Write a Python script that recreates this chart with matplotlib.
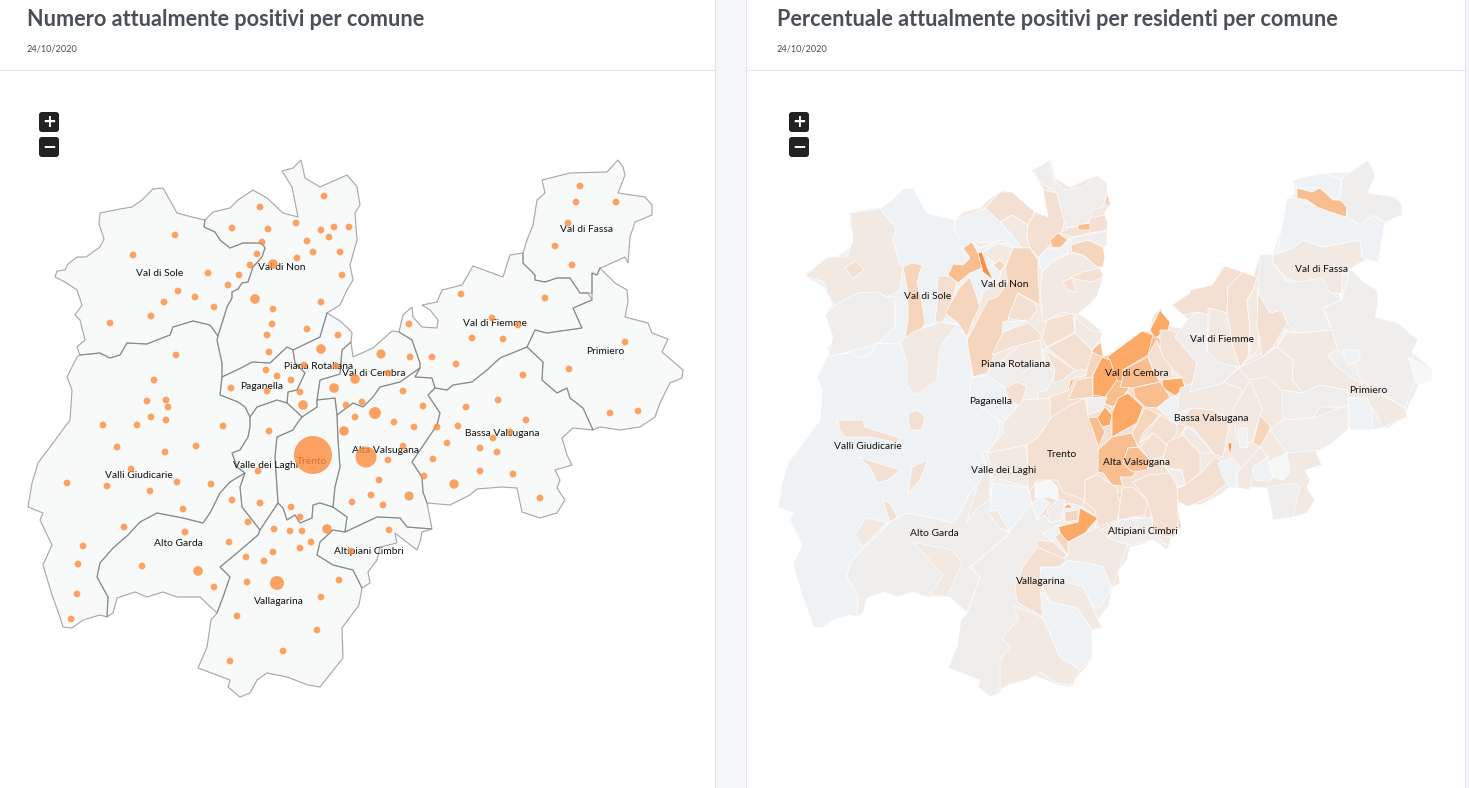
import matplotlib
matplotlib.use("Agg")
import matplotlib.pyplot as plt
from matplotlib.patches import Polygon, Rectangle, FancyBboxPatch

W, H = 1469, 788

title_left = "Numero attualmente positivi per comune"
title_right = "Percentuale attualmente positivi per residenti per comune"
date_text = "24/10/2020"

# district outlines, traced in pixels from the left map
districts = {
    "Val di Sole": [(55,277),(57,271),(65,270),(68,264),(77,257),(86,257),(100,247),(104,239),(99,224),(100,213),(120,209),(132,207),(142,200),(153,189),(163,188),(168,197),(177,213),(192,217),(205,220),(204,227),(215,232),(220,240),(230,248),(243,243),(262,243),(265,248),(262,257),(253,267),(248,282),(242,283),(238,289),(232,292),(232,298),(227,307),(223,320),(218,336),(210,325),(193,321),(173,327),(170,335),(157,340),(147,344),(127,343),(120,355),(110,358),(100,353),(80,355),(77,347),(85,340),(80,320),(75,315),(82,305),(77,290),(65,282)],
    "Val di Non": [(205,220),(213,212),(230,208),(238,200),(253,190),(267,198),(283,213),(298,217),(292,187),(282,171),(293,168),(301,160),(305,178),(320,187),(347,175),(353,182),(357,187),(360,205),(355,213),(357,240),(350,265),(353,280),(347,290),(340,305),(327,313),(320,337),(293,350),(287,347),(270,363),(252,362),(243,367),(222,377),(222,363),(217,340),(218,336),(223,320),(227,307),(232,298),(232,292),(238,289),(242,283),(248,282),(253,267),(262,257),(265,248),(262,243),(243,243),(230,248),(220,240),(215,232),(204,227)],
    "Piana Rotaliana": [(293,350),(295,363),(305,373),(297,390),(288,392),(287,403),(298,413),(302,417),(317,407),(317,400),(320,380),(340,374),(342,350),(351,342),(352,333),(350,330),(340,321),(327,313),(320,337)],
    "Paganella": [(222,377),(243,367),(252,362),(270,363),(287,347),(293,350),(295,363),(305,373),(297,390),(288,392),(287,403),(277,400),(257,407),(250,417),(245,407),(238,402),(220,395)],
    "Valli Giudicarie": [(80,355),(100,353),(110,358),(120,355),(127,343),(147,344),(157,340),(170,335),(173,327),(193,321),(210,325),(218,336),(217,340),(222,363),(222,377),(220,395),(238,402),(245,407),(250,417),(250,427),(248,437),(240,450),(232,453),(237,467),(245,473),(230,482),(220,493),(210,513),(203,523),(183,518),(157,513),(140,522),(128,535),(113,548),(100,563),(97,577),(108,597),(107,617),(100,615),(83,620),(72,628),(63,627),(60,617),(52,595),(43,565),(52,545),(40,520),(43,513),(28,507),(32,483),(38,463),(53,443),(70,420),(72,390),(67,377),(77,357)],
    "Alto Garda": [(157,513),(183,518),(203,523),(210,513),(220,493),(230,482),(245,473),(240,487),(242,507),(260,530),(258,535),(237,553),(220,567),(230,577),(223,597),(217,613),(200,597),(177,597),(163,592),(147,597),(135,592),(117,598),(113,613),(107,617),(108,597),(97,577),(100,563),(113,548),(128,535),(140,522)],
    "Valle dei Laghi": [(250,427),(250,417),(257,407),(277,400),(287,403),(298,413),(302,417),(298,422),(293,430),(277,437),(275,457),(278,503),(260,530),(242,507),(240,487),(245,473),(237,467),(232,453),(240,450),(248,437)],
    "Trento": [(277,437),(293,430),(298,422),(302,417),(317,407),(317,400),(335,398),(337,415),(338,440),(340,467),(335,487),(333,507),(320,503),(313,505),(312,518),(300,523),(295,515),(287,520),(283,508),(278,503),(275,457)],
    "Vallagarina": [(260,530),(278,503),(283,508),(287,520),(295,515),(300,523),(312,518),(313,505),(320,503),(333,507),(347,517),(345,532),(333,530),(320,542),(317,555),(333,565),(353,570),(362,588),(359,605),(342,628),(343,658),(320,687),(308,685),(287,677),(267,673),(257,680),(250,693),(240,697),(228,687),(230,680),(198,668),(207,647),(211,620),(217,613),(223,597),(230,577),(220,567),(237,553),(258,535)],
    "Altipiani Cimbri": [(345,532),(377,517),(400,518),(407,527),(432,529),(422,532),(420,542),(417,550),(395,533),(397,543),(380,547),(377,560),(368,572),(370,583),(362,588),(353,570),(333,565),(317,555),(320,542),(333,530)],
    "Val di Cembra": [(320,380),(340,374),(342,350),(351,342),(353,357),(373,348),(392,331),(399,332),(412,340),(420,363),(420,368),(400,382),(380,387),(373,397),(363,407),(353,403),(337,415),(335,398),(317,400)],
    "Alta Valsugana": [(337,415),(353,403),(363,407),(373,397),(380,387),(400,382),(420,368),(415,377),(432,378),(435,388),(428,395),(440,413),(437,425),(412,462),(422,477),(423,492),(427,503),(432,529),(407,527),(400,518),(377,517),(345,532),(347,517),(333,507),(335,487),(340,467),(338,440)],
    "Val di Fiemme": [(399,332),(403,315),(412,307),(413,317),(422,327),(437,328),(438,320),(430,310),(422,305),(437,302),(442,290),(462,285),(473,266),(503,277),(510,255),(523,253),(523,263),(535,275),(535,280),(545,282),(557,278),(570,278),(580,293),(588,293),(592,300),(573,308),(582,328),(547,333),(535,330),(527,347),(500,358),(487,370),(472,382),(453,385),(447,390),(435,388),(432,378),(415,377),(420,368),(420,363),(412,340)],
    "Val di Fassa": [(523,253),(527,240),(533,225),(537,200),(545,193),(542,180),(570,173),(607,172),(618,160),(623,167),(625,175),(618,193),(645,197),(652,205),(652,215),(635,222),(630,237),(628,263),(625,257),(603,267),(600,268),(597,275),(592,273),(592,293),(588,293),(580,293),(570,278),(557,278),(545,282),(535,280),(535,275),(523,263)],
    "Primiero": [(600,268),(615,283),(627,290),(628,302),(625,317),(648,323),(652,333),(668,339),(662,352),(683,370),(682,378),(670,383),(660,403),(655,417),(640,427),(620,430),(600,427),(593,430),(583,408),(570,398),(567,388),(557,393),(542,380),(543,362),(527,347),(535,330),(547,333),(582,328),(573,308),(592,300),(592,293),(592,273),(597,275)],
    "Bassa Valsugana": [(435,388),(447,390),(453,385),(472,382),(487,370),(500,358),(527,347),(543,362),(542,380),(557,393),(567,388),(570,398),(583,408),(593,430),(573,428),(562,438),(567,455),(572,465),(555,470),(560,480),(557,488),(565,500),(557,513),(540,518),(522,512),(517,488),(502,487),(477,489),(470,495),(450,505),(427,503),(423,492),(422,477),(412,462),(437,425),(440,413),(428,395)],
}

# level most comuni of a district sit at on the right map
district_levels = {"Val di Sole": 0, "Val di Non": 2, "Piana Rotaliana": 2, "Paganella": 1, "Valli Giudicarie": 0,
                   "Alto Garda": 1, "Valle dei Laghi": 1, "Trento": 3, "Vallagarina": 1, "Altipiani Cimbri": 2,
                   "Val di Cembra": 5, "Alta Valsugana": 3, "Val di Fiemme": 2, "Val di Fassa": 0, "Primiero": 1,
                   "Bassa Valsugana": 2}

# label name, x on left map, y on left map, x on right map, y on right map
label_names = ["Val di Sole","Val di Non","Piana Rotaliana","Paganella","Val di Cembra","Val di Fiemme","Val di Fassa","Primiero","Bassa Valsugana","Valli Giudicarie","Trento","Alta Valsugana","Valle dei Laghi","Alto Garda","Altipiani Cimbri","Vallagarina"]
left_label_xy = [(160,273),(282,268),(319,366),(262,386),(374,373),(495,323),(587,229),(605,351),(502,433),(139,475),(312,461),(386,450),(266,465),(178,544),(369,552),(279,601)]
right_label_xy = [(928,296),(1005,284),(1016,364),(991,401),(1137,373),(1222,339),(1322,270),(1368,390),(1211,418),(868,446),(1062,454),(1137,462),(1004,470),(934,534),(1143,531),(1041,582)]

# comuni with only a few cases
small_dots = [(175,235),(133,255),(208,273),(239,275),(250,265),(257,254),(262,242),(228,285),(178,291),(195,297),(164,302),(214,307),(151,316),(110,323),(260,207),(232,228),(268,229),(296,223),(324,196),(321,230),(334,227),(349,227),(329,237),(307,241),(313,252),(340,252),(297,258),(342,275),(321,302),(273,309),(272,324),(307,329),(267,335),(269,352),(338,335),(304,365),(266,370),(336,366),(277,376),(291,380),(231,388),(267,391),(300,392),(346,405),(355,417),(176,355),(154,380),(147,401),(166,400),(168,407),(151,417),(166,420),(103,425),(137,425),(223,426),(269,431),
              (580,186),(576,202),(616,202),(568,223),(555,246),(572,265),(545,298),(461,294),(492,318),(518,325),(409,324),(472,338),(503,339),(625,342),(410,357),(432,357),(456,364),(569,369),(388,373),(523,375),(403,391),(498,400),(466,407),(423,406),(362,402),(394,422),(526,420),(610,413),(638,411),(414,427),(437,427),(458,426),
              (510,432),(493,438),(447,443),(480,448),(497,452),(480,471),(513,474),(540,498),
              (117,447),(165,452),(196,446),(131,469),(67,483),(107,486),(177,482),(211,484),(150,491),(183,509),(232,500),(260,503),(248,522),(124,527),(185,532),(83,546),(78,564),(142,566),(229,542),(214,587),(77,594),(71,619),(403,446),(388,460),(433,459),(424,476),(379,480),(258,471),(371,495),(352,502),(383,505),(291,507),(300,517),(274,529),(290,531),(302,531),(389,530),(311,542),(300,548),(273,552),(351,551),(246,557),(264,561),(247,582),(339,580),(321,597),(237,616),(317,630),(283,651),(230,661)]
big_dots = [(273,264,4.8),(255,299,4.8),(321,349,4.8),(334,388,4.8),(355,379,4.8),(303,405,4.8),(381,354,4.6),(344,431,4.8),(198,571,4.8),(409,496,4.6),(327,529,4.8),(454,484,4.7),(277,583,7),(375,413,6),(366,457,10.5),(313,455,19)]

# right map: share of residents, 0 (lowest) to 7 (highest), one entry per comune outline
comuni = [
    (2,[(805,276),(817,265),(828,257),(847,257),(853,240),(850,213),(870,210),(880,209),(896,228),(893,240),(900,265),(903,265),(900,290),(887,297),(877,292),(858,293),(835,305),(827,293),(825,282)]),
    (3,[(845,268),(856,261),(864,270),(853,279)]),
    (1,[(825,315),(835,305),(858,293),(877,292),(887,297),(895,297),(895,327),(880,342),(867,347),(828,357),(833,337)]),
    (4,[(903,267),(912,263),(922,265),(917,283),(921,297),(925,323),(918,335),(905,337),(908,320),(908,293)]),
    (3,[(938,276),(950,276),(957,283),(950,307),(943,322),(935,322),(937,303)]),
    (4,[(945,313),(960,287),(970,277),(980,307),(973,320),(967,337),(958,323)]),
    (0,[(955,220),(985,208),(1000,222),(1010,233),(1022,248),(1013,248),(1005,240),(985,243),(972,242),(963,248),(955,230)]),
    (2,[(982,253),(998,243),(1013,248),(1005,268),(993,262)]),
    (5,[(948,275),(953,264),(963,265),(970,258),(963,248),(972,242),(978,253),(982,268),(970,273),(958,283)]),
    (2,[(900,342),(913,332),(940,322),(957,325),(940,347),(937,380),(917,395),(907,387),(907,363)]),
    (3,[(985,208),(1000,192),(1012,192),(1035,212),(1028,225),(1012,215),(1000,222)]),
    (2,[(1000,222),(1012,215),(1028,225),(1027,237),(1030,248),(1022,248),(1010,233)]),
    (3,[(1028,225),(1035,212),(1048,217),(1043,190),(1057,193),(1065,217),(1062,233),(1048,247),(1038,258),(1030,248),(1027,237)]),
    (1,[(1032,170),(1050,160),(1053,178),(1063,190),(1083,187),(1097,175),(1107,183),(1107,193),(1103,207),(1092,210),(1090,222),(1067,228),(1063,217),(1057,193),(1042,183)]),
    (4,[(1104,205),(1107,193),(1111,205)]),
    (3,[(1060,233),(1068,228),(1088,225),(1090,218),(1105,215),(1108,223),(1107,230),(1090,233),(1073,237)]),
    (5,[(1078,225),(1090,223),(1090,230),(1078,230)]),
    (1,[(1072,238),(1090,234),(1107,231),(1107,245),(1103,247),(1088,240),(1071,245)]),
    (5,[(1050,240),(1058,233),(1068,240),(1060,248),(1052,247)]),
    (4,[(1071,245),(1088,240),(1103,247),(1105,257),(1103,267),(1097,267),(1083,255),(1072,252)]),
    (0,[(1038,260),(1048,248),(1060,248),(1070,238),(1068,253),(1052,262),(1042,272)]),
    (2,[(1052,262),(1070,253),(1083,255),(1097,267),(1103,277),(1097,297),(1083,310),(1077,315),(1063,312),(1043,322),(1040,293),(1042,272)]),
    (3,[(1070,278),(1083,272),(1100,268),(1103,277),(1092,282)]),
    (3,[(1062,282),(1072,278),(1077,292),(1068,290)]),
    (4,[(1005,268),(1013,248),(1030,248),(1038,260),(1038,273),(1040,305),(1018,293),(1008,320),(1000,340),(992,360),(987,373),(973,377),(967,340),(988,300),(997,297),(1008,283)]),
    (3,[(1008,318),(1018,293),(1035,303),(1037,310),(1028,322)]),
    (0,[(1003,322),(1027,320),(1002,333)]),
    (4,[(993,265),(1000,260),(1005,265),(1000,272)]),
    (3,[(992,355),(1003,332),(1028,323),(1040,333),(1040,340),(1013,347)]),
    (2,[(1002,360),(1020,345),(1040,340),(1043,360),(1023,372)]),
    (3,[(1042,338),(1047,320),(1073,313),(1075,332),(1047,347)]),
    (3,[(1047,348),(1075,333),(1092,350),(1090,370),(1075,370)]),
    (2,[(1075,317),(1090,330),(1102,333),(1100,340),(1092,350),(1075,333)]),
    (3,[(1045,350),(1075,370),(1063,380),(1053,383),(1055,370)]),
    (4,[(1092,352),(1102,357),(1093,375),(1090,385),(1085,377)]),
    (0,[(970,378),(987,375),(1005,388),(1008,398),(1020,407),(1003,423),(987,412),(970,398)]),
    (3,[(1005,388),(1018,382),(1027,387),(1020,407),(1008,398)]),
    (3,[(1047,398),(1070,390),(1075,377),(1085,377),(1092,397),(1087,400),(1087,420),(1050,420)]),
    (4,[(1068,400),(1077,380),(1092,377),(1093,397)]),
    # val di cembra
    (6,[(1150,330),(1160,310),(1170,322),(1168,330),(1155,338)]),
    (6,[(1107,357),(1142,331),(1153,335),(1148,355),(1123,370),(1122,382),(1115,380),(1110,360)]),
    (6,[(1102,357),(1110,360),(1117,380),(1105,397),(1093,395),(1093,375)]),
    (5,[(1123,370),(1148,357),(1153,370),(1160,382),(1145,385),(1133,388),(1120,387),(1122,382)]),
    (3,[(1160,330),(1173,330),(1197,357),(1197,382),(1185,387),(1182,378),(1170,368),(1160,358)]),
    (3,[(1148,355),(1157,340),(1163,357),(1172,368),(1172,378),(1160,380),(1153,370)]),
    (6,[(1162,380),(1182,378),(1185,387),(1175,396),(1163,388)]),
    (5,[(1133,388),(1160,382),(1170,397),(1157,408),(1145,407),(1135,397)]),
    (6,[(1128,393),(1143,407),(1137,423),(1112,437),(1112,413),(1118,398)]),
    (6,[(1105,407),(1112,415),(1110,425),(1102,427),(1097,418)]),
    (1,[(1087,398),(1107,397),(1102,410),(1088,415)]),
    (5,[(1083,418),(1097,417),(1102,427),(1105,432),(1098,448),(1083,432)]),
    (5,[(1098,450),(1112,437),(1132,433),(1138,447),(1128,448),(1123,463),(1140,467),(1132,477),(1120,477),(1123,486),(1112,485),(1103,473),(1097,472)]),
    (5,[(1128,448),(1138,447),(1150,460),(1147,470),(1132,472),(1123,463)]),
    (4,[(1132,433),(1145,408),(1160,415),(1143,433),(1138,447)]),
    (3,[(1140,443),(1160,415),(1177,425),(1177,433),(1167,447),(1153,433)]),
    (0,[(1157,408),(1175,395),(1190,412),(1177,425)]),
    (3,[(1140,447),(1153,433),(1167,445),(1163,457),(1150,460)]),
    (3,[(1163,457),(1168,442),(1183,435),(1200,453),(1200,473),(1185,485),(1182,470),(1167,468)]),
    (1,[(1168,470),(1182,470),(1185,485),(1172,488)]),
    (3,[(1173,490),(1185,485),(1202,472),(1215,457),(1220,460),(1228,482),(1210,497),(1187,507),(1175,498)]),
    (2,[(1180,388),(1193,383),(1217,380),(1240,388),(1243,398),(1230,420),(1213,410),(1192,408),(1177,413)]),
    (3,[(1192,408),(1213,410),(1230,420),(1223,457),(1215,455),(1193,428),(1178,423)]),
    (2,[(1185,428),(1193,430),(1213,453),(1200,453),(1183,435)]),
    (2,[(1233,410),(1250,380),(1263,410),(1260,415),(1252,443),(1237,440)]),
    (4,[(1253,443),(1260,415),(1271,427),(1260,447)]),
    (7,[(1228,443),(1232,443),(1230,457)]),
    (0,[(1218,463),(1233,458),(1243,470),(1237,473),(1237,488),(1230,488),(1223,477)]),
    (0,[(1238,428),(1247,428),(1248,447),(1240,448)]),
    (2,[(1237,473),(1260,447),(1268,457),(1253,470),(1250,490),(1238,488)]),
    (0,[(1253,467),(1268,457),(1273,477),(1270,482),(1255,480)]),
    (8,[(1268,462),(1287,453),(1290,473),(1283,480),(1273,477)]),
    (1,[(1267,487),(1293,483),(1300,487),(1293,517),(1273,520)]),
    # fiemme and fassa
    (3,[(1172,305),(1190,293),(1190,290),(1212,285),(1225,266),(1243,272),(1228,287),(1227,313),(1208,308),(1208,315),(1197,312),(1183,315)]),
    (1,[(1175,337),(1187,320),(1197,312),(1208,315),(1207,350),(1238,368),(1223,383),(1190,392),(1197,363)]),
    (2,[(1210,308),(1227,313),(1233,347),(1240,367),(1218,363),(1207,350)]),
    (3,[(1228,287),(1243,272),(1257,277),(1253,290),(1247,300),(1250,330),(1248,357),(1240,367),(1233,347),(1227,313)]),
    (2,[(1253,290),(1257,287),(1260,317),(1258,350),(1250,358),(1250,330),(1247,300)]),
    (3,[(1258,292),(1270,313),(1282,310),(1287,323),(1273,347),(1262,357),(1260,340),(1257,327)]),
    (1,[(1260,255),(1273,254),(1273,263),(1285,278),(1285,282),(1323,278),(1332,293),(1342,300),(1323,308),(1332,330),(1297,333),(1287,323),(1282,310),(1270,313),(1258,292)]),
    (2,[(1273,255),(1293,248),(1303,240),(1323,247),(1343,243),(1360,240),(1362,257),(1370,257),(1353,267),(1342,273),(1342,293),(1330,293),(1322,278),(1297,282),(1285,277),(1273,263)]),
    (0,[(1277,253),(1287,198),(1298,198),(1317,207),(1347,217),(1360,225),(1373,215),(1385,222),(1378,263),(1362,257),(1360,240),(1343,243),(1323,247),(1303,240),(1293,248)]),
    (0,[(1292,180),(1323,173),(1342,180),(1337,200),(1320,188),(1297,188)]),
    (5,[(1297,188),(1312,192),(1320,188),(1333,200),(1342,200),(1347,207),(1346,217),(1330,212),(1317,207),(1307,200),(1297,198)]),
    (1,[(1342,178),(1368,160),(1375,175),(1368,193),(1395,197),(1402,205),(1402,215),(1385,222),(1373,215),(1360,225),(1347,217),(1347,207),(1340,200)]),
    # primiero
    (1,[(1323,308),(1342,300),(1350,268),(1365,283),(1377,290),(1378,302),(1375,317),(1398,323),(1418,340),(1412,352),(1415,380),(1405,408),(1360,380),(1357,367),(1338,350),(1332,330)]),
    (8,[(1408,357),(1433,370),(1432,380),(1418,385),(1415,380)]),
    (2,[(1277,347),(1287,332),(1297,333),(1332,330),(1338,350),(1328,355),(1337,367),(1360,383),(1405,408),(1407,417),(1383,427),(1372,407),(1350,403),(1347,390),(1320,385),(1303,393),(1292,380),(1293,360)]),
    (0,[(1342,350),(1360,350),(1360,360),(1348,365)]),
    (2,[(1238,368),(1262,357),(1277,347),(1293,360),(1292,380),(1303,393),(1282,390),(1267,377),(1250,380)]),
    (1,[(1282,390),(1303,393),(1320,385),(1347,390),(1353,410),(1340,407),(1320,407),(1313,418),(1283,420)]),
    (1,[(1283,420),(1313,418),(1348,405),(1348,430),(1330,445),(1320,450),(1287,453),(1270,430)]),
    (0,[(1348,398),(1367,398),(1372,410),(1372,430),(1350,430)]),
    # trento and vallagarina
    (3,[(1027,437),(1043,430),(1048,422),(1052,417),(1067,407),(1085,398),(1088,417),(1098,445),(1098,473),(1085,480),(1085,500),(1063,492),(1057,480),(1038,480),(1028,493)]),
    (8,[(1035,483),(1050,480),(1058,488),(1058,500),(1047,497),(1035,498)]),
    (3,[(1085,480),(1098,475),(1117,488),(1122,500),(1117,520),(1098,527),(1095,510),(1085,502)]),
    (4,[(1117,492),(1128,492),(1120,502)]),
    (3,[(1122,488),(1133,487),(1147,500),(1145,515),(1118,520)]),
    (3,[(1133,482),(1148,475),(1170,473),(1177,485),(1178,520),(1175,537),(1153,535),(1152,517),(1147,500)]),
    (1,[(1108,538),(1120,520),(1152,517),(1153,533),(1167,545),(1152,540),(1130,545)]),
    (6,[(1058,527),(1078,522),(1080,508),(1098,518),(1085,533),(1068,542),(1062,538)]),
    (6,[(1063,508),(1068,504),(1073,508)]),
    (4,[(1065,512),(1078,510),(1078,520),(1065,522)]),
    (1,[(1047,510),(1057,500),(1065,500),(1062,520),(1050,523)]),
    (0,[(1032,503),(1040,497),(1050,503),(1037,520)]),
    (0,[(1043,533),(1058,525),(1060,533),(1053,542)]),
    (2,[(1068,555),(1068,542),(1098,527),(1108,538),(1128,545),(1120,567),(1112,588),(1103,567),(1087,563),(1062,560)]),
    (3,[(1037,540),(1053,542),(1067,555),(1062,560),(1037,553)]),
    (4,[(1055,537),(1060,533),(1068,542),(1068,555)]),
    (3,[(1037,547),(1067,560),(1060,567),(1040,567),(1042,587),(1045,618),(1017,602),(1015,587),(1023,567)]),
    (0,[(1040,568),(1060,567),(1067,560),(1087,563),(1103,567),(1112,588),(1100,607),(1093,607),(1083,587),(1047,577)]),
    (2,[(1043,588),(1048,577),(1083,587),(1093,608),(1102,628),(1092,630),(1077,608),(1050,602)]),
    (0,[(1040,590),(1050,602),(1077,608),(1092,630),(1092,658),(1080,670),(1060,657),(1043,618)]),
    (2,[(1013,605),(1043,618),(1060,657),(1080,670),(1073,685),(1057,683),(1040,672),(1027,680),(1008,685),(1000,690),(1000,660),(1010,647),(1002,638),(1018,620)]),
    # alto garda and paganella
    (2,[(913,542),(952,550),(962,563),(947,597),(930,595),(943,575)]),
    (0,[(992,483),(1028,488),(1032,503),(1008,533),(990,517)]),
    (2,[(987,512),(997,510),(1010,532),(1000,528)]),
    (2,[(967,523),(970,510),(977,487),(987,467),(990,478),(990,500),(977,508)]),
    (2,[(987,453),(1023,440),(1027,453),(1028,487),(993,477)]),
    (3,[(908,493),(912,467),(928,460),(920,480)]),
    (3,[(883,500),(890,503),(897,517),(890,522)]),
    (2,[(855,535),(865,518),(887,522),(863,547)]),
    (3,[(840,430),(838,420),(863,420),(865,427),(900,438),(898,443),(870,437),(845,437)]),
    (3,[(858,457),(900,470),(888,480),(877,483),(870,467)]),
    (3,[(908,413),(918,410),(925,417),(922,430),(910,430)]),
    (2,[(987,453),(1003,433),(1003,423),(1023,400),(1050,398),(1050,420),(1037,438),(1027,445)]),
    (7,[(978,253),(982,252),(987,267),(993,280),(983,272)]),
]

level_colors = ["#eff2f5", "#f0eeec", "#f2e9e3", "#f3e0d2", "#f5d5bc", "#f9be90", "#fca966", "#fd8d3c", "#f6f8f8"]

fig = plt.figure(figsize=(W / 100, H / 100), dpi=100)
ax = fig.add_axes([0, 0, 1, 1])
ax.set_xlim(0, W)
ax.set_ylim(H, 0)
ax.axis("off")

# page background and cards
ax.add_patch(Rectangle((716, 0), 30, H, fc="#f5f6fa", ec="none", zorder=0))
ax.add_patch(Rectangle((1465, 0), 4, H, fc="#f5f6fa", ec="none", zorder=0))
for x in [715.5, 746.5, 1465]:
    ax.plot([x, x], [0, H], color="#e3e5ea", lw=0.8, zorder=1)
ax.plot([0, 715], [69.5, 69.5], color="#e3e5ea", lw=0.8, zorder=1)
ax.plot([747, 1465], [69.5, 69.5], color="#e3e5ea", lw=0.8, zorder=1)

heading = dict(family="Lato", color="#4a5056", fontsize=15.55, fontweight="bold", va="center")
ax.text(27, 19, title_left, **heading)
ax.text(777, 19, title_right, **heading)
for x in [27, 777]:
    ax.text(x, 49, date_text, family="Lato", color="#4a5056", fontsize=6.6, va="center")

# zoom buttons
for x in [39, 789]:
    for y, sign in [(112, "+"), (137, "\u2212")]:
        ax.add_patch(FancyBboxPatch((x + 2, y + 2), 16, 16, boxstyle="round,pad=2,rounding_size=3",
                                    fc="#222222", ec="none", zorder=3))
        ax.text(x + 10, y + 9.5, sign, color="white", fontsize=12, fontweight="bold",
                ha="center", va="center", zorder=4)

# left map, half transparent edges so shared borders come out darker
for name, pts in districts.items():
    ax.add_patch(Polygon(pts, closed=True, fc="#f8f9f9", ec="none", zorder=2))
for name, pts in districts.items():
    ax.add_patch(Polygon(pts, closed=True, fill=False, ec=(0.45, 0.45, 0.45, 0.6), lw=0.85, zorder=2))

for name, (x, y) in zip(label_names, left_label_xy):
    ax.text(x, y, name, family="Lato", fontsize=7.4, color="#111111", ha="center", va="center", zorder=5)

xs = [d[0] for d in small_dots] + [d[0] for d in big_dots]
ys = [d[1] for d in small_dots] + [d[1] for d in big_dots]
rs = [3.4] * len(small_dots) + [d[2] for d in big_dots]
ax.scatter(xs, ys, s=[(2 * r * 0.72) ** 2 for r in rs], color="#fd8d3c", alpha=0.8, linewidths=0, zorder=6)

# right map, same outlines moved across, comuni on top
for name, pts in districts.items():
    moved = [(p[0] + 750, p[1]) for p in pts]
    ax.add_patch(Polygon(moved, closed=True, fc=level_colors[district_levels[name]], ec="white", lw=0.5, zorder=2))
for level, pts in comuni:
    ax.add_patch(Polygon(pts, closed=True, fc=level_colors[level], ec="white", lw=0.5, zorder=3))

for name, (x, y) in zip(label_names, right_label_xy):
    ax.text(x, y, name, family="Lato", fontsize=7.4, color="#111111", ha="center", va="center", zorder=5)

fig.savefig("out.png", dpi=100)
